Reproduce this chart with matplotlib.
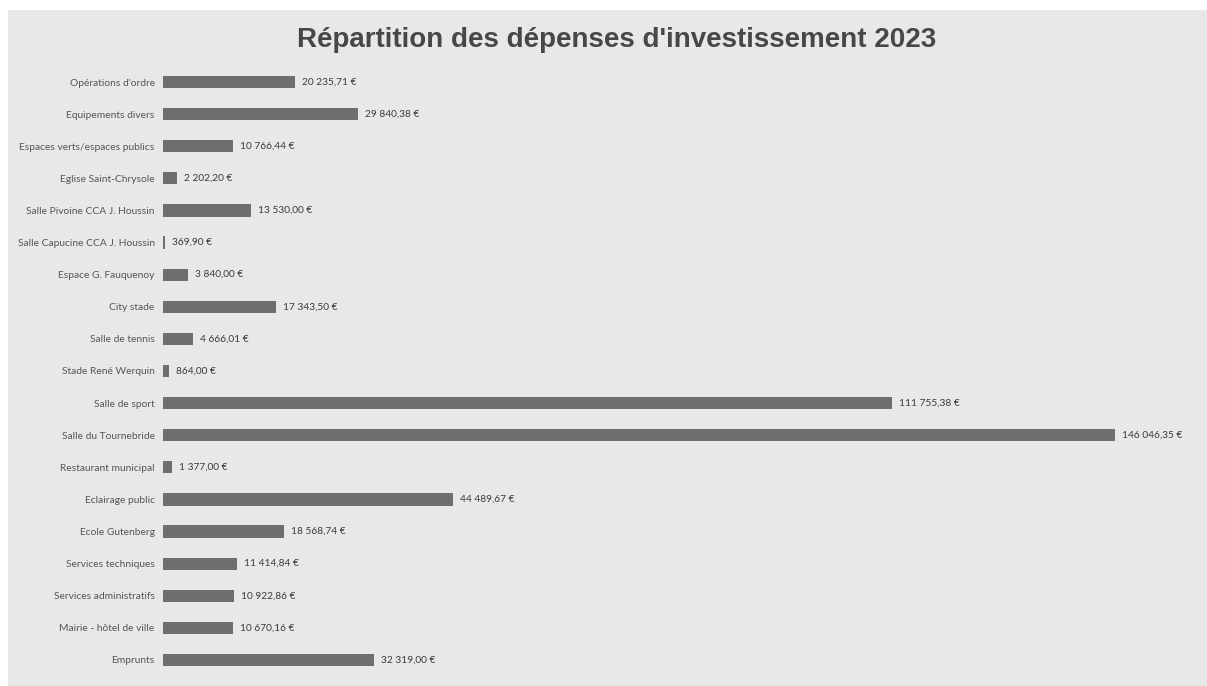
import matplotlib
matplotlib.use("Agg")
import matplotlib.pyplot as plt
import matplotlib.patches as mpatches

categories = [
    "Opérations d'ordre",
    "Equipements divers",
    "Espaces verts/espaces publics",
    "Eglise Saint-Chrysole",
    "Salle Pivoine CCA J. Houssin",
    "Salle Capucine CCA J. Houssin",
    "Espace G. Fauquenoy",
    "City stade",
    "Salle de tennis",
    "Stade René Werquin",
    "Salle de sport",
    "Salle du Tournebride",
    "Restaurant municipal",
    "Eclairage public",
    "Ecole Gutenberg",
    "Services techniques",
    "Services administratifs",
    "Mairie - hôtel de ville",
    "Emprunts",
]
amounts = [
    20235.71, 29840.38, 10766.44, 2202.20, 13530.00, 369.90, 3840.00,
    17343.50, 4666.01, 864.00, 111755.38, 146046.35, 1377.00, 44489.67,
    18568.74, 11414.84, 10922.86, 10670.16, 32319.00,
]
title = "Répartition des dépenses d'investissement 2023"


def euro(v):
    whole, frac = f"{v:,.2f}".split(".")
    return whole.replace(",", " ") + "," + frac + " €"


W, H = 1207, 686
fig = plt.figure(figsize=(W / 100, H / 100), dpi=100)
fig.patch.set_facecolor("white")

# paper background (scanned page)
fig.patches.append(mpatches.Rectangle((8 / W, 0), 1 - 8 / W, 1 - 10 / H,
                                      transform=fig.transFigure,
                                      facecolor="#e8e8e8", edgecolor="none",
                                      zorder=-10))

ax = fig.add_axes([163 / W, 1 - 676 / H, 978 / W, (676 - 66) / H])
ax.set_zorder(1)
ax.set_facecolor("none")
ypos = list(range(len(categories)))
ax.barh(ypos, amounts, height=0.38, color="#6e6e6e", edgecolor="none")
ax.set_xlim(0, 150000)
ax.set_ylim(len(categories) - 0.5, -0.5)

for y, v in zip(ypos, amounts):
    ax.annotate(euro(v), (v, y), xytext=(5, 0), textcoords="offset points",
                ha="left", va="center", fontsize=7.3, color="#3a3a3a",
                family="Lato")

ax.set_yticks(ypos)
ax.set_yticklabels(categories, fontsize=7.4, color="#555555", family="Lato")
ax.tick_params(axis="y", length=0, pad=6)
ax.set_xticks([])
for s in ax.spines.values():
    s.set_visible(False)

fig.text(617 / W, 1 - 40 / H, title, ha="center", va="center",
         fontsize=20, fontweight="bold", color="#474747",
         family="Liberation Sans", zorder=2)

fig.savefig("out.png", dpi=100, facecolor=fig.get_facecolor())
